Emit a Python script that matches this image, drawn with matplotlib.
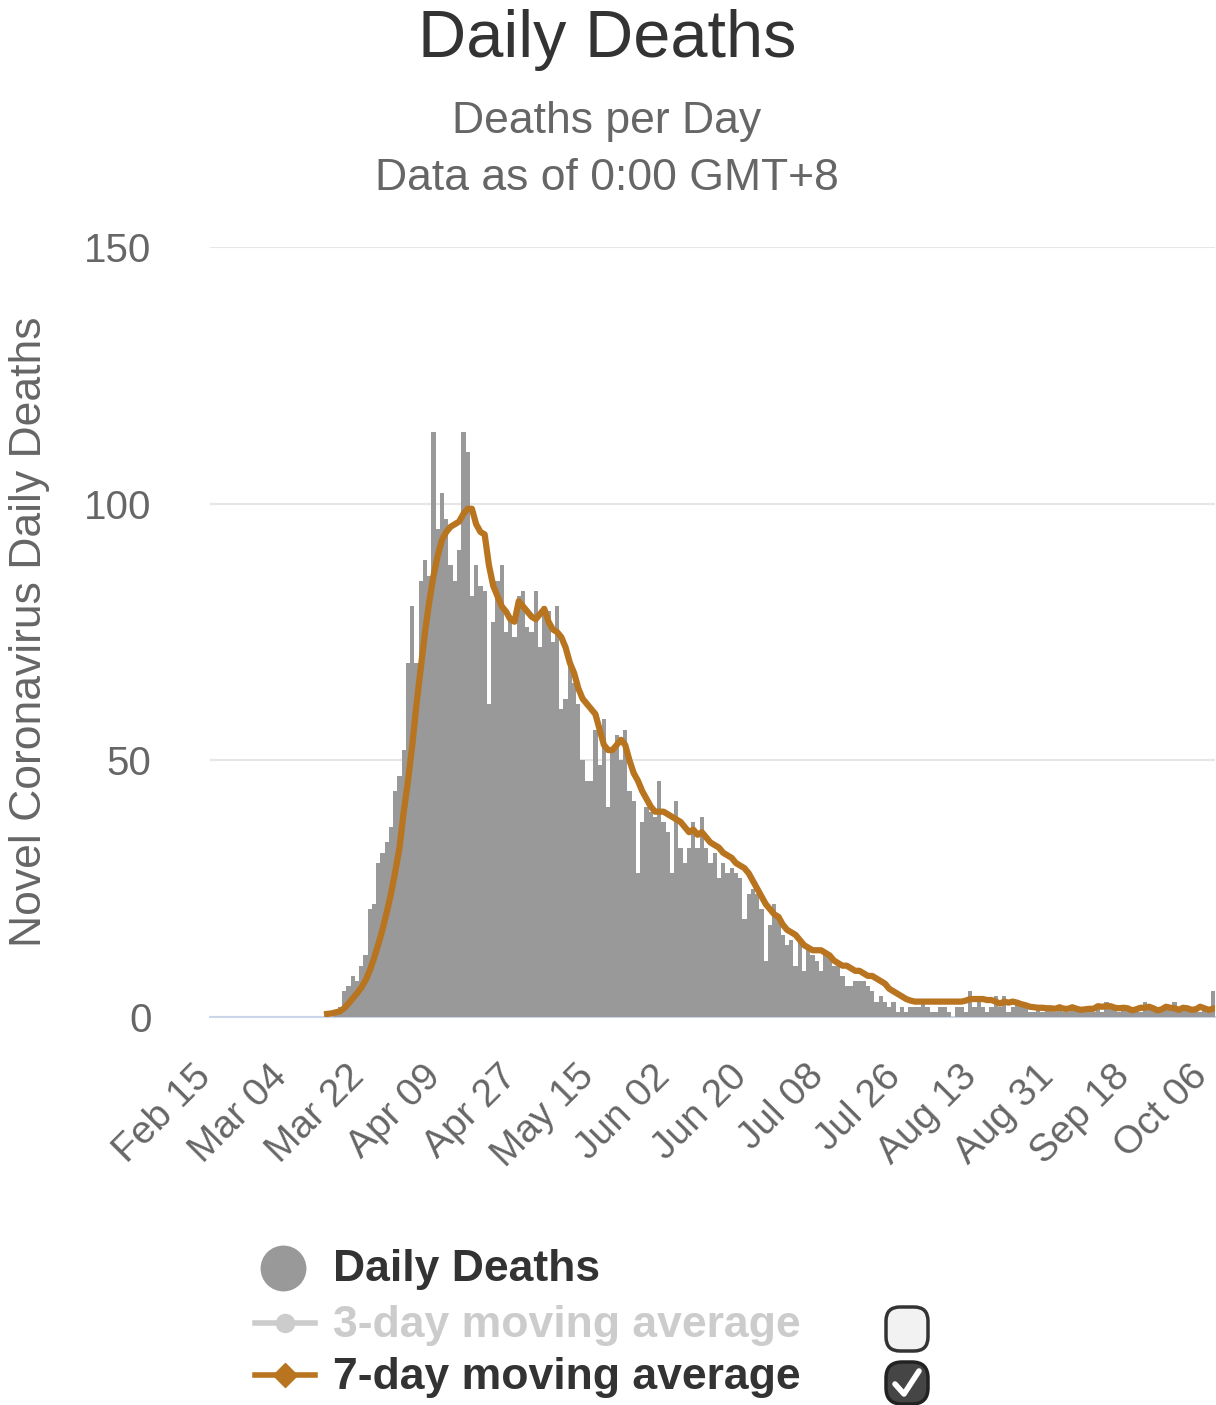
import numpy as np
import pandas as pd
import matplotlib
matplotlib.use('Agg')
import matplotlib.pyplot as plt
from matplotlib.patches import FancyBboxPatch

plt.rcParams['font.family'] = ['Liberation Sans', 'DejaVu Sans']

# days Feb 15 .. Oct 07 (category axis)
dates = pd.date_range('2020-02-15', '2020-10-07', freq='D')
day_labels = list(dates.strftime('%b %d'))
tick_labels = ['Feb 15', 'Mar 04', 'Mar 22', 'Apr 09', 'Apr 27', 'May 15', 'Jun 02',
               'Jun 20', 'Jul 08', 'Jul 26', 'Aug 13', 'Aug 31', 'Sep 18', 'Oct 06']

# daily deaths
daily = [0] * 26 + [
    0, 1, 0, 1, 2, 5, 6, 8, 7, 10, 12, 21, 22, 30,                      # Mar 12 - Mar 25
    32, 34, 37, 44, 47, 52, 69, 80, 69, 85, 89, 86, 114, 95, 102, 97,   # - Apr 10
    88, 85, 91, 114, 110, 82, 88, 84, 83, 61, 77, 85, 88, 75, 78, 74,
    82, 83, 76, 75, 83, 72, 80, 79,
    73, 80, 60, 62, 69, 65, 61, 50, 46, 46, 56, 49, 58, 41, 52, 55,
    50, 56, 44, 42, 28, 38, 41, 40, 39, 46, 38, 36, 28, 42,
    33, 30, 33, 38, 33, 39, 33, 30, 32, 27, 30, 28, 29, 28, 27, 19,
    24, 25, 24, 21, 11, 18, 22, 19, 16, 14, 15, 10, 15, 9,
    13, 12, 11, 9, 12, 12, 10, 11, 8, 6, 6, 7, 7, 7, 6, 5,
    3, 4, 3, 2, 3, 1, 2, 1, 2, 2, 2, 3, 2, 1,
    1, 2, 2, 1, 0, 2, 2, 1, 5, 2, 3, 2, 1, 2, 4, 2, 4, 1, 2, 3,
    2, 2, 1, 1, 2, 1, 2, 2, 1, 2, 1, 1, 2, 2, 1, 2, 2, 1, 2, 1,
    3, 2, 2, 1, 2, 2, 1, 2, 1, 3, 2, 2, 1, 1, 2, 2, 3, 1, 2, 2,
    1, 2, 1, 2, 2, 5]

# 7-day moving average (starts Mar 13)
avg7 = [np.nan] * 27 + [
    0.6, 0.7, 0.9, 1.1, 1.7, 2.6, 3.6, 4.6, 5.7, 7.1, 9.0, 11.4, 14.1,
    17.0, 20.4, 24.0, 28.3, 33.0, 40.0, 46.0, 53.0, 61.0, 68.0, 75.0, 81.0, 86.0, 90.0, 93.0, 94.5,
    95.5, 96.0, 96.5, 98.0,
    99.0, 99.0, 96.0, 94.5, 94.0, 88.0, 84.0, 82.0, 80.0, 79.0, 77.5, 77.0, 81.0, 80.0, 79.0, 78.0,
    77.5, 78.5, 79.5, 77.0,
    75.5, 75.0, 74.0, 72.0, 69.0, 67.0, 64.0, 62.0, 61.0, 60.0, 59.0, 56.0, 53.0, 52.0, 52.0, 53.0,
    54.0, 53.0, 50.0, 47.5,
    46.0, 44.0, 42.5, 41.0, 40.0, 40.0, 40.0, 39.5, 39.0, 38.5, 38.0, 37.0, 36.0, 36.5, 35.5, 36.0,
    35.0, 34.0, 33.5, 33.0,
    32.0, 31.5, 31.0, 30.0, 29.5, 29.0, 28.0, 26.5, 25.0, 23.5, 22.0, 21.0, 20.0, 19.5, 18.0, 17.0,
    16.5, 16.0, 15.0, 14.0,
    13.5, 13.0, 13.0, 13.0, 12.5, 12.0, 11.0, 10.5, 10.0, 10.0, 9.5, 9.0, 9.0, 8.5, 8.0, 8.0,
    7.5, 7.0, 6.5, 5.5,
    5.0, 4.5, 4.0, 3.5, 3.2, 3.0, 3.0, 3.0, 3.0, 3.0, 3.0, 3.0, 3.0, 3.0, 3.0, 3.0,
    3.0, 3.2, 3.5, 3.5,
    3.5, 3.5, 3.3, 3.3, 3.0, 2.6, 3.0, 2.8, 3.0, 2.8, 2.5, 2.3, 2.0, 1.9, 1.8, 1.8,
    1.7, 1.7, 1.6, 1.9,
    1.6, 1.6, 1.9, 1.6, 1.4, 1.5, 1.6, 1.6, 2.1, 2.0, 2.1, 2.1, 1.8, 1.7, 1.8, 1.7,
    1.3, 1.5, 1.8, 1.8,
    2.0, 1.7, 1.3, 1.5, 2.0, 1.8, 1.7, 1.4, 1.8, 1.7, 1.4, 1.5, 2.0, 1.7, 1.4, 1.6]

W, H = 1216, 1405
fig = plt.figure(figsize=(W / 100, H / 100), dpi=100)
fig.patch.set_facecolor('white')

x = np.arange(len(dates))
ax = fig.add_axes([210 / W, 1 - 1017 / H, 1005 / W, 770 / H])
ax.bar(x, daily, width=1.0, color='#999999', linewidth=0, zorder=2)
ax.plot(x, avg7, color='#b8741f', lw=4.5, solid_joinstyle='round', zorder=3)

ax.set_xlim(-0.5, len(dates) - 0.5)
ax.set_ylim(0, 150)
ax.set_yticks([0, 50, 100, 150])
ax.yaxis.grid(True, color='#e6e6e6', lw=1.5)
ax.set_axisbelow(True)
for s in ['top', 'right', 'left']:
    ax.spines[s].set_visible(False)
ax.spines['bottom'].set_color('#ccd6eb')
ax.spines['bottom'].set_linewidth(1.5)
ax.spines['bottom'].set_zorder(1)

ax.set_xticks([day_labels.index(t) for t in tick_labels])
ax.set_xticklabels(tick_labels, rotation=45, ha='right', va='baseline', rotation_mode='anchor')
ax.tick_params(axis='both', length=0, colors='#666666')
ax.tick_params(axis='y', labelsize=29, pad=42)
ax.tick_params(axis='x', labelsize=28, pad=44)

# titles
fig.text(607 / W, 1 - 40 / H, 'Daily Deaths', ha='center', va='center', fontsize=48, color='#333333')
fig.text(607 / W, 1 - 122 / H, 'Deaths per Day', ha='center', va='center', fontsize=32, color='#666666')
fig.text(607 / W, 1 - 178 / H, 'Data as of 0:00 GMT+8', ha='center', va='center', fontsize=32, color='#666666')
fig.text(30 / W, 1 - 632 / H, 'Novel Coronavirus Daily Deaths', ha='center', va='center',
         rotation=90, fontsize=32, color='#666666')

# legend drawn in pixel space
ov = fig.add_axes([0, 0, 1, 1])
ov.set_xlim(0, W)
ov.set_ylim(H, 0)
ov.axis('off')
ov.patch.set_alpha(0)

ov.plot([283], [1268], marker='o', ms=32, color='#999999', ls='none')
ov.text(333, 1270, 'Daily Deaths', fontsize=32, fontweight='bold', color='#333333', va='center')

ov.plot([255, 315], [1323, 1323], color='#cccccc', lw=4)
ov.plot([285], [1323], marker='o', ms=13, color='#cccccc', ls='none')
ov.text(333, 1325, '3-day moving average', fontsize=32, fontweight='bold', color='#cccccc', va='center')

ov.plot([255, 315], [1375, 1375], color='#b8741f', lw=4)
ov.plot([285], [1375], marker='D', ms=12, color='#b8741f', ls='none')
ov.text(333, 1377, '7-day moving average', fontsize=32, fontweight='bold', color='#333333', va='center')

# checkboxes
ov.add_patch(FancyBboxPatch((886, 1307), 42, 44, boxstyle='round,pad=0,rounding_size=14',
                            fc='#f2f2f2', ec='#333333', lw=2.5))
ov.add_patch(FancyBboxPatch((886, 1362), 42, 42, boxstyle='round,pad=0,rounding_size=16',
                            fc='#454545', ec='#222222', lw=2.5))
ov.plot([895, 904, 919], [1384, 1394, 1371], color='white', lw=4, solid_capstyle='round',
        solid_joinstyle='round')

fig.savefig('out.png', dpi=100)
